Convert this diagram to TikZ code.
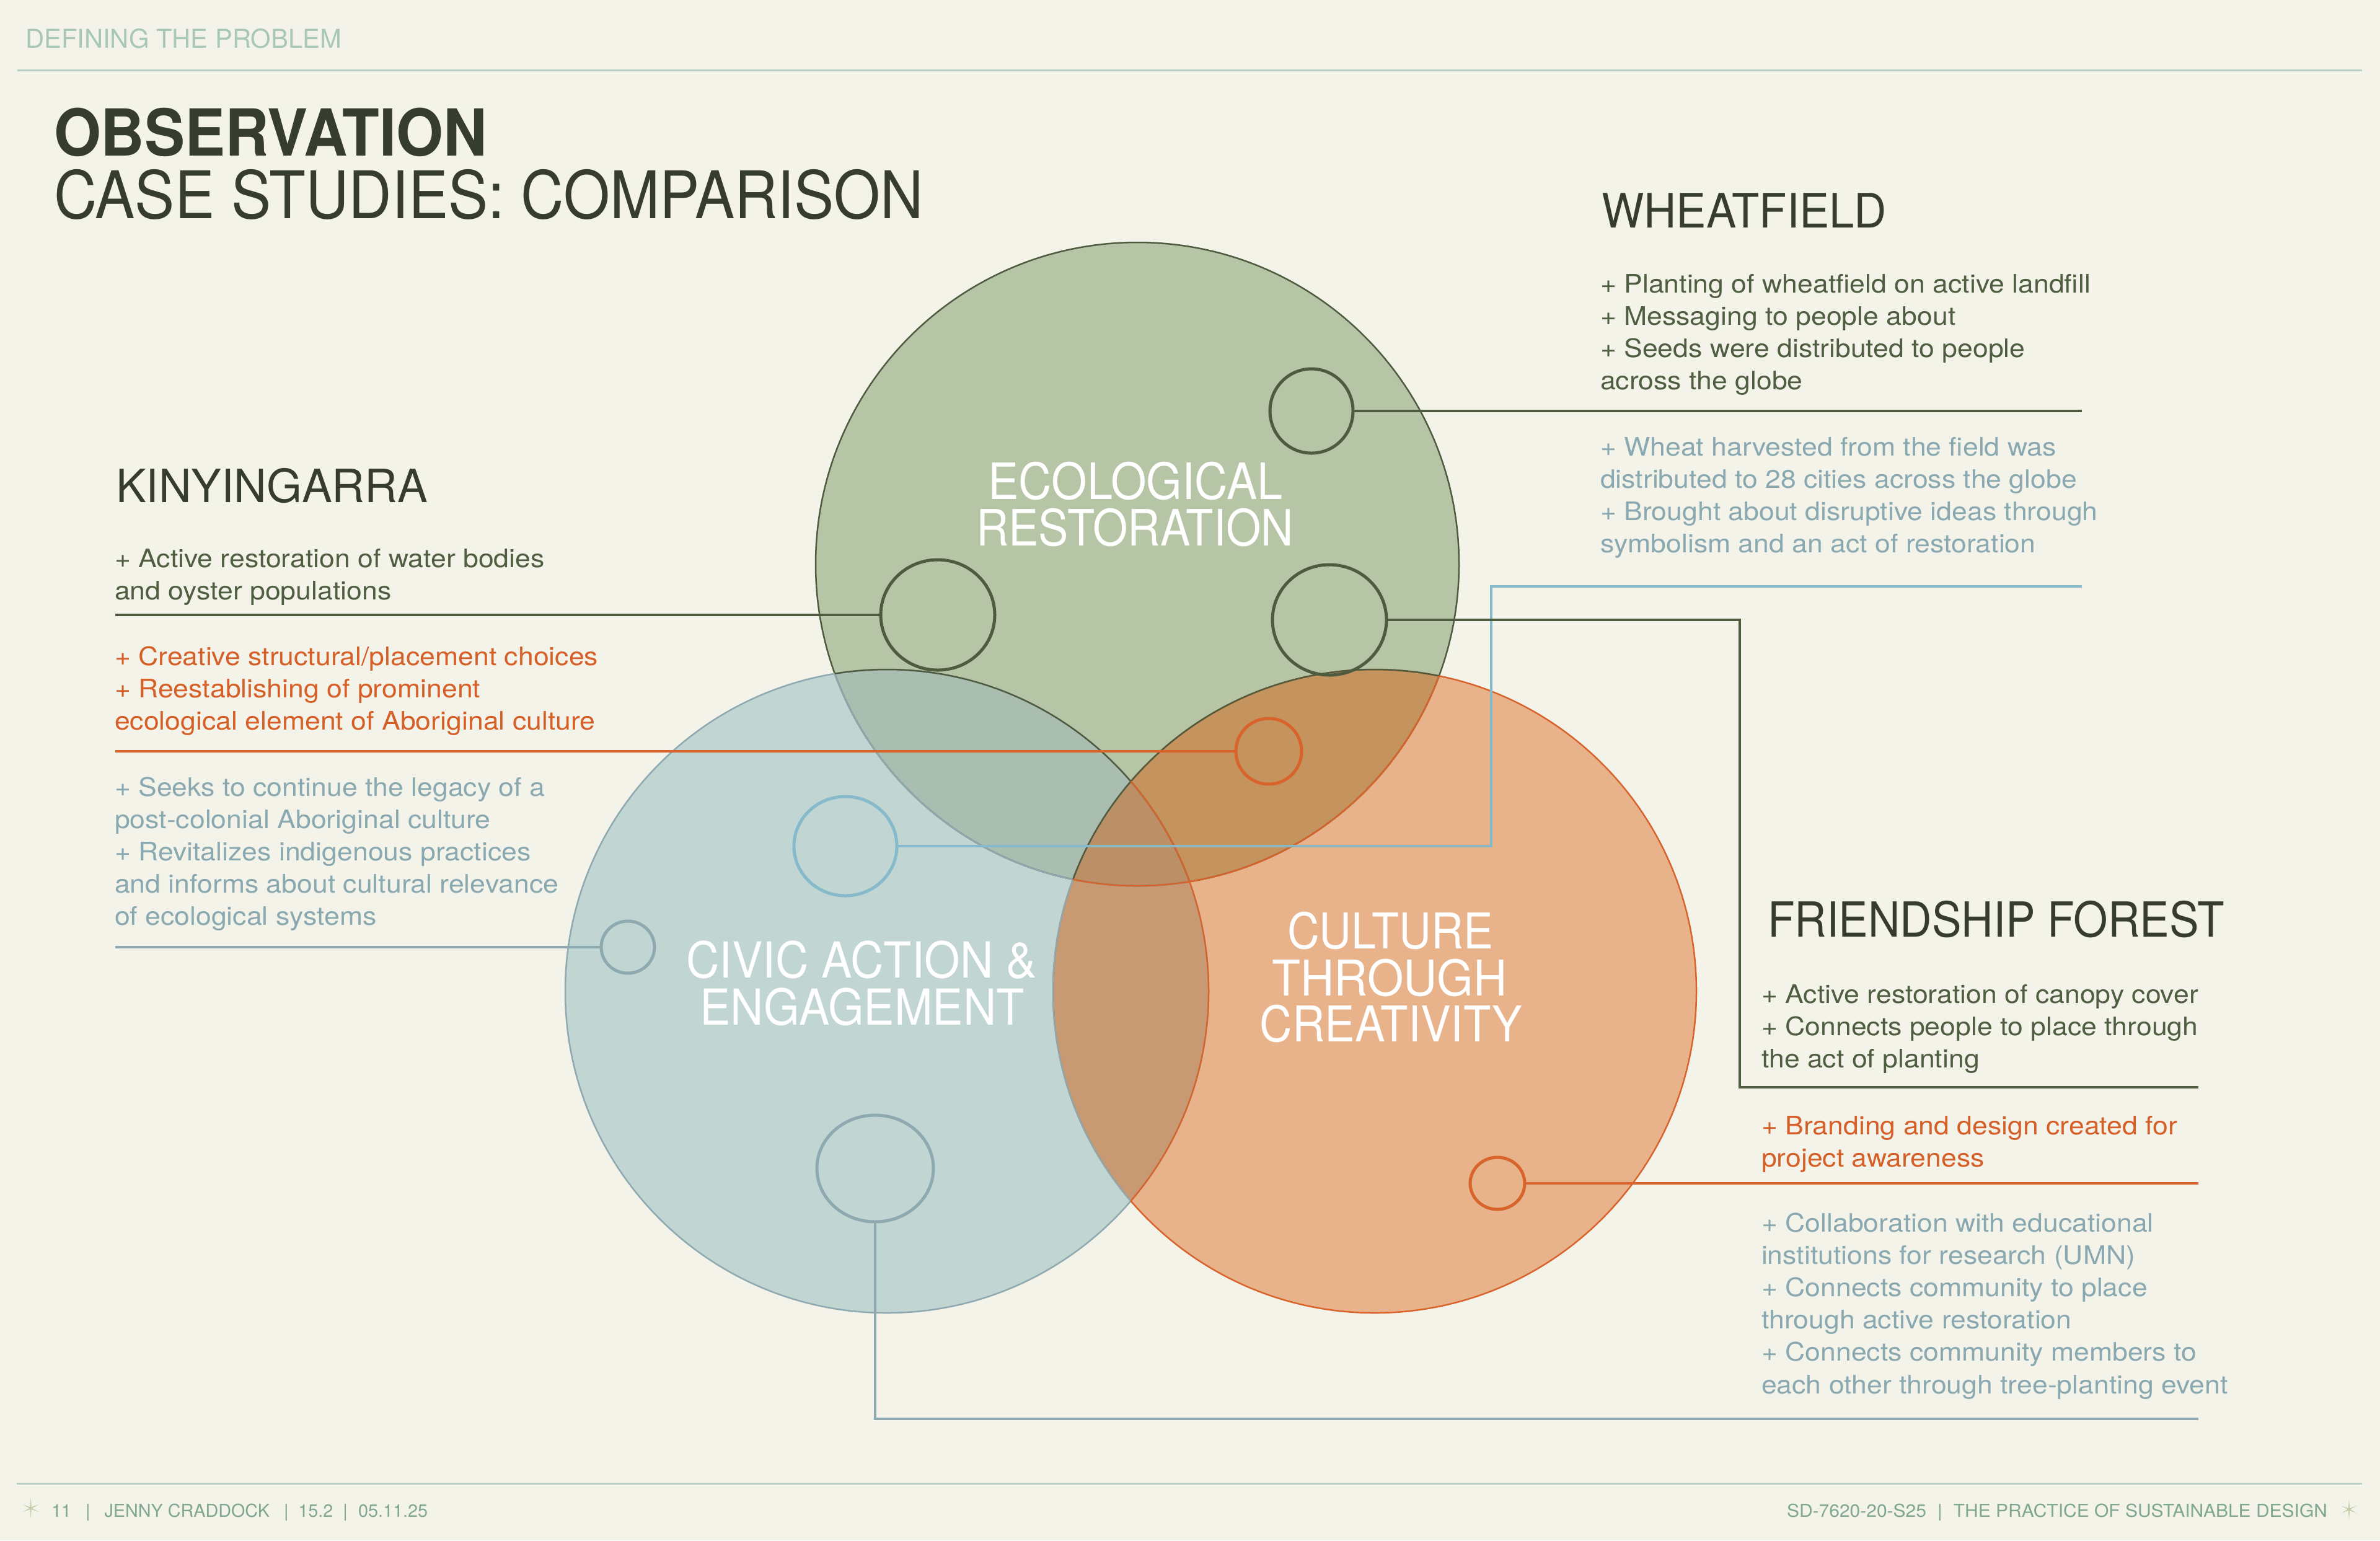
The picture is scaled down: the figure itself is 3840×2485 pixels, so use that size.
\documentclass[tikz,border=0pt]{standalone}
\usepackage{fontspec}
\setmainfont{TeX Gyre Heros}
\newfontfamily\bodyfont[FakeStretch=1.085]{TeX Gyre Heros}
\usepackage{graphicx}
\usetikzlibrary{shapes.geometric}
\definecolor{bgc}{HTML}{F4F3EA}
\definecolor{ttl}{HTML}{363C2E}
\definecolor{sage}{HTML}{A8C7B7}
\definecolor{rulec}{HTML}{B8D0C3}
\definecolor{foot}{HTML}{7FA68E}
\definecolor{starc}{HTML}{C5CCA8}
\definecolor{dktxt}{HTML}{4F5D40}
\definecolor{dkline}{HTML}{4E5B3F}
\definecolor{ortxt}{HTML}{D65F27}
\definecolor{orline}{HTML}{D8632B}
\definecolor{bgtxt}{HTML}{89A8B0}
\definecolor{bgline}{HTML}{8EA9B0}
\definecolor{ltblue}{HTML}{86BACB}
\definecolor{gF}{HTML}{B6C5A5}
\definecolor{bF}{HTML}{C1D5D3}
\definecolor{oF}{HTML}{E8B28B}
\definecolor{gbF}{HTML}{A9BEB1}
\definecolor{goF}{HTML}{C4935E}
\definecolor{boF}{HTML}{C89A73}
\definecolor{gboF}{HTML}{BC9067}
\newcommand\fitw[3]{\resizebox{#1}{\height}{\fontsize{#2}{#2}\selectfont #3}}
\newcommand\lines[1]{\begin{tabular}[t]{@{}l@{}}#1\end{tabular}}
\begin{document}
\begin{tikzpicture}[x=0.2pt,y=-0.2pt,
  txt/.style={inner sep=0pt, outer sep=0pt, anchor=base west},
  ctxt/.style={inner sep=0pt, outer sep=0pt, anchor=base, text=white},
  body/.style={inner sep=0pt, outer sep=0pt, anchor=base west, font=\bodyfont\fontsize{8.22pt}{10.44pt}\selectfont},
  ring/.style={ellipse, draw, line width=1pt, inner sep=0pt, outer sep=0pt},
  conn/.style={line width=0.9pt},
  edge/.style={line width=0.5pt},
  hrule/.style={line width=0.6pt, draw=rulec}]
\useasboundingbox (0,0) rectangle (3840,2485);
\fill[bgc] (0,0) rectangle (3840,2485);

% header and footer
\node[txt, text=sage] (hdr) at (41,77) {\fitw{102pt}{8.36pt}{DEFINING THE PROBLEM}};
\coordinate (hrA) at (28,113);
\coordinate (hrB) at (3811,113);
\draw[hrule] (hrA) -- (hrB);
\coordinate (frA) at (27,2393);
\coordinate (frB) at (3811,2393);
\draw[hrule] (frA) -- (frB);
\node[txt, text=ttl] (t1) at (87,251) {\fitw{139.8pt}{20.9pt}{\bfseries OBSERVATION}};
\node[txt, text=ttl] (t2) at (87,352) {\fitw{280.6pt}{21.2pt}{CASE STUDIES: COMPARISON}};
\node[txt, text=foot] (f1) at (83,2447) {\fitw{121.4pt}{5.74pt}{11\hspace{0.8em}|\hspace{0.8em}JENNY CRADDOCK\hspace{0.8em}|\hspace{0.55em}15.2\hspace{0.55em}|\hspace{0.6em}05.11.25}};
\node[txt, text=foot] (f2) at (2883,2447) {\fitw{174.4pt}{5.74pt}{SD-7620-20-S25\hspace{0.6em}|\hspace{0.6em}THE PRACTICE OF SUSTAINABLE DESIGN}};
\begin{scope}[shift={(49.6,2433)}]
\fill[starc] (90:17) -- (60:2.2) -- (25:14) -- (0:2.2) -- (335:14) -- (300:2.2) -- (270:17) -- (240:2.2) -- (205:14) -- (180:2.2) -- (155:14) -- (120:2.2) -- cycle;
\end{scope}
\begin{scope}[shift={(3790,2435)}]
\fill[starc] (90:17) -- (60:2.2) -- (25:14) -- (0:2.2) -- (335:14) -- (300:2.2) -- (270:17) -- (240:2.2) -- (205:14) -- (180:2.2) -- (155:14) -- (120:2.2) -- cycle;
\end{scope}

% Venn circles
\coordinate (G) at (1835,910);
\coordinate (B) at (1431,1599);
\coordinate (O) at (2218,1599);
\fill[gF] (G) circle (519);
\fill[bF] (B) circle (519);
\fill[oF] (O) circle (519);
\begin{scope}
\clip (G) circle (519);
\fill[gbF] (B) circle (519);
\fill[goF] (O) circle (519);
\end{scope}
\begin{scope}
\clip (B) circle (519);
\fill[boF] (O) circle (519);
\end{scope}
\begin{scope}
\clip (G) circle (519);
\clip (B) circle (519);
\fill[gboF] (O) circle (519);
\end{scope}
\draw[edge, dkline] (G) circle (519);
\draw[edge, bgline] (B) circle (519);
\draw[edge, orline] (O) circle (519);
\begin{scope}
\clip (B) circle (519);
\draw[edge, bgline] (G) circle (519);
\draw[edge, bgline] (O) circle (519);
\end{scope}
\begin{scope}
\clip (G) circle (519);
\draw[edge, dkline] (B) circle (519);
\draw[edge, dkline] (O) circle (519);
\end{scope}
\begin{scope}
\clip (O) circle (519);
\draw[edge, orline] (G) circle (519);
\draw[edge, orline] (B) circle (519);
\end{scope}

% circle labels
\node[ctxt] (l1) at (1832,805) {\fitw{95pt}{16.16pt}{ECOLOGICAL}};
\node[ctxt] (l2) at (1831,880) {\fitw{102.4pt}{16.16pt}{RESTORATION}};
\node[ctxt] (l3) at (1390,1577) {\fitw{113pt}{16pt}{CIVIC ACTION \&}};
\node[ctxt] (l4) at (1391,1653) {\fitw{104.6pt}{16pt}{ENGAGEMENT}};
\node[ctxt] (l5) at (2243,1530) {\fitw{66.4pt}{15.9pt}{CULTURE}};
\node[ctxt] (l6) at (2242,1606) {\fitw{75.8pt}{15.9pt}{THROUGH}};
\node[ctxt] (l7) at (2244,1680) {\fitw{84.6pt}{15.9pt}{CREATIVITY}};

% small rings
\node[ring, draw=dkline, minimum width=26.8pt, minimum height=27.2pt] (wc) at (2116,663) {};
\node[ring, draw=dkline, minimum width=36.8pt, minimum height=35.6pt] (kc1) at (1513,992) {};
\node[ring, draw=dkline, minimum width=36.8pt, minimum height=35.6pt] (gc2) at (2145,1000) {};
\node[ring, draw=orline, minimum width=21.2pt, minimum height=21.2pt] (oc1) at (2047,1212) {};
\node[ring, draw=ltblue, minimum width=33.2pt, minimum height=32pt] (bc) at (1364,1365) {};
\node[ring, draw=bgline, minimum width=17.2pt, minimum height=16.8pt] (kc3) at (1013,1528) {};
\node[ring, draw=orline, minimum width=17.6pt, minimum height=16.8pt] (oc2) at (2416,1909) {};
\node[ring, draw=bgline, minimum width=37.6pt, minimum height=34.4pt] (bc2) at (1412,1885) {};

% connectors
\coordinate (wEnd) at (3359,660);
\coordinate (kA) at (186,0);
\coordinate (bTurn) at (2406,946);
\coordinate (bEnd) at (3359,946);
\coordinate (gTurn) at (2807,1754);
\coordinate (gEnd) at (3547,1754);
\coordinate (oEnd) at (3547,1909);
\coordinate (bbEnd) at (3547,2289);
\draw[conn, dkline] (wc.east) -- (wc.east -| wEnd);
\draw[conn, dkline] (kA |- kc1.west) -- (kc1.west);
\draw[conn, orline] (kA |- oc1.west) -- (oc1.west);
\draw[conn, bgline] (kA |- kc3.west) -- (kc3.west);
\draw[conn, ltblue] (bc.east) -| (bTurn) -- (bEnd);
\draw[conn, dkline] (gc2.east) -| (gTurn) -- (gEnd);
\draw[conn, orline] (oc2.east) -- (oc2.east -| oEnd);
\draw[conn, bgline] (bc2.south) |- (bbEnd);

% headings
\node[txt, text=ttl] (hk) at (187,810) {\fitw{100.6pt}{14.76pt}{KINYINGARRA}};
\node[txt, text=ttl] (hw) at (2584,367) {\fitw{92pt}{15.3pt}{WHEATFIELD}};
\node[txt, text=ttl] (hf) at (2852,1511) {\fitw{147.4pt}{15.6pt}{FRIENDSHIP FOREST}};

% body text
\node[body, text=dktxt] (w1) at (2582,472) {\lines{+ Planting of wheatfield on active landfill\\ + Messaging to people about\\ + Seeds were distributed to people\\ across the globe}};
\node[body, text=bgtxt] (w2) at (2582,735) {\lines{+ Wheat harvested from the field was\\ distributed to 28 cities across the globe\\ + Brought about disruptive ideas through\\ symbolism and an act of restoration}};
\node[body, text=dktxt] (k1) at (185,915) {\lines{+ Active restoration of water bodies\\ and oyster populations}};
\node[body, text=ortxt] (k2) at (185,1073) {\lines{+ Creative structural/placement choices\\ + Reestablishing of prominent\\ ecological element of Aboriginal culture}};
\node[body, text=bgtxt] (k3) at (185,1284) {\lines{+ Seeks to continue the legacy of a\\ post-colonial Aboriginal culture\\ + Revitalizes indigenous practices\\ and informs about cultural relevance\\ of ecological systems}};
\node[body, text=dktxt] (r1) at (2842,1618) {\lines{+ Active restoration of canopy cover\\ + Connects people to place through\\ the act of planting}};
\node[body, text=ortxt] (r2) at (2842,1830) {\lines{+ Branding and design created for\\ project awareness}};
\node[body, text=bgtxt] (r3) at (2842,1987) {\lines{+ Collaboration with educational\\ institutions for research (UMN)\\ + Connects community to place\\ through active restoration\\ + Connects community members to\\ each other through tree-planting event}};
\end{tikzpicture}
\end{document}
